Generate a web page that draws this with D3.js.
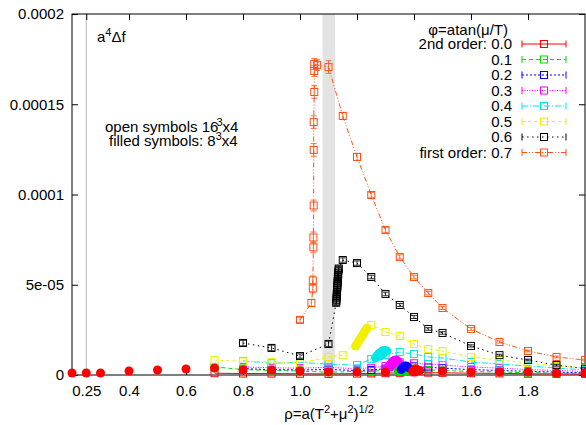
<!DOCTYPE html>
<html>
<head>
<meta charset="utf-8">
<script src="https://cdn.jsdelivr.net/npm/d3@7"></script>
<style>
  body { margin: 0; background: #fff; }
  svg { display: block; font-family: "Liberation Sans", Arial, sans-serif; }
</style>
</head>
<body>
<svg width="586" height="425"></svg>
<script>
// Data
// ---------------------------
var phiLabels = ['2nd order: 0.0', '0.1', '0.2', '0.3', '0.4', '0.5', '0.6', 'first order: 0.7'];
var phiColors = ['#ff0000', '#00dd00', '#0000ff', '#ff00ff', '#00e5e5', '#f0f000', '#000000', '#ff5014'];
var phiDash = ['none', '4,3', '2,2', '1,1.5', '6,2,1,2', '3,3', '1.5,3.5', '5,2,1,2,1,2'];

var xTicks = [0.25, 0.4, 0.6, 0.8, 1.0, 1.2, 1.4, 1.6, 1.8];
var yTicks = [0, 5e-5, 1e-4, 1.5e-4, 2e-4];
var yTickLabels = ['0', '5e-05', '0.0001', '0.00015', '0.0002'];

// open symbols, 16^3x4
var rhoGrid = [0.7, 0.8, 0.9, 1.0, 1.1, 1.2, 1.25, 1.3, 1.35, 1.4, 1.45, 1.5, 1.6, 1.7, 1.8, 1.9, 2.0];
var open00 = [1.0e-6, 0.8e-6, 0.8e-6, 0.7e-6, 0.6e-6, 0.8e-6, 0.9e-6, 1.0e-6, 1.2e-6, 1.5e-6, 1.3e-6, 1.2e-6, 1.0e-6, 0.9e-6, 0.7e-6, 0.6e-6, 0.5e-6];
var open01 = [4.5e-6, 3.0e-6, 2.5e-6, 2.2e-6, 1.5e-6, 2.0e-6, 2.2e-6, 2.5e-6, 3.0e-6, 3.2e-6, 2.8e-6, 2.5e-6, 2.0e-6, 1.6e-6, 1.3e-6, 1.0e-6, 0.8e-6];
var open02 = [null, 3.5e-6, 3.0e-6, 2.8e-6, 3.0e-6, 2.5e-6, 2.8e-6, 3.5e-6, 4.5e-6, 4.8e-6, 4.2e-6, 3.8e-6, 3.0e-6, 2.5e-6, 2.0e-6, 1.6e-6, 1.2e-6];
var open03 = [null, 4.5e-6, 4.0e-6, 3.8e-6, 4.2e-6, 3.5e-6, 4.0e-6, 5.0e-6, 7.0e-6, 6.5e-6, 6.0e-6, 5.5e-6, 4.5e-6, 3.8e-6, 3.0e-6, 2.5e-6, 2.0e-6];
var open04 = [null, 7.8e-6, 6.5e-6, 7.0e-6, 6.0e-6, 5.5e-6, 8.9e-6, 1.1e-5, 1.27e-5, 1.16e-5, 1.0e-5, 9.4e-6, 7.2e-6, 6.1e-6, 5.0e-6, 3.9e-6, 2.8e-6];

var rho05 = [0.7, 0.8, 0.9, 1.0, 1.1, 1.15, 1.25, 1.3, 1.35, 1.4, 1.45, 1.5, 1.6, 1.7, 1.8, 1.9, 2.0];
var open05 = [8.3e-6, 7.5e-6, 7.2e-6, 6.5e-6, 1.0e-5, 1.1e-5, 2.77e-5, 2.38e-5, 2.16e-5, 1.72e-5, 1.44e-5, 1.33e-5, 1.0e-5, 8.3e-6, 6.6e-6, 5.0e-6, 3.9e-6];

var rho06 = [0.8, 0.9, 1.0, 1.1, 1.127, 1.128, 1.128, 1.129, 1.129, 1.13, 1.13, 1.131, 1.131, 1.132, 1.132, 1.133, 1.133, 1.134, 1.134, 1.135, 1.136, 1.15, 1.2, 1.25, 1.3, 1.35, 1.4, 1.45, 1.5, 1.6, 1.7, 1.8, 1.9, 2.0];
var open06 = [1.77e-5, 1.5e-5, 1.05e-5, 1.72e-5, 4.0e-5, 4.12e-5, 4.24e-5, 4.36e-5, 4.48e-5, 4.6e-5, 4.72e-5, 4.84e-5, 4.96e-5, 5.08e-5, 5.2e-5, 5.32e-5, 5.44e-5, 5.56e-5, 5.68e-5, 5.8e-5, 5.9e-5, 6.37e-5, 6.2e-5, 5.43e-5, 4.49e-5, 3.88e-5, 3.21e-5, 2.55e-5, 2.33e-5, 1.61e-5, 1.1e-5, 8.3e-6, 5.5e-6, 3.5e-6];
var err06 = [1.5e-6, 1.5e-6, 1.2e-6, 1.5e-6, 1.5e-6, 1.5e-6, 1.5e-6, 1.5e-6, 1.5e-6, 1.5e-6, 1.5e-6, 1.5e-6, 1.5e-6, 1.5e-6, 1.5e-6, 1.5e-6, 1.5e-6, 1.5e-6, 1.5e-6, 1.5e-6, 1.5e-6, 1.2e-6, 1.2e-6, 1.0e-6, 1.0e-6, 0.8e-6, 0.8e-6, 0.7e-6, 0.7e-6, 0.6e-6, 0.5e-6, 0.5e-6, 0.5e-6, 0.5e-6];

var rho07 = [1.0, 1.04, 1.045, 1.045, 1.047, 1.047, 1.048, 1.048, 1.048, 1.05, 1.05, 1.05, 1.06, 1.1, 1.15, 1.2, 1.25, 1.3, 1.35, 1.4, 1.45, 1.5, 1.6, 1.7, 1.8, 1.9, 2.0];
var open07 = [3.05e-5, 3.99e-5, 4.8e-5, 5.24e-5, 7.07e-5, 7.62e-5, 9.39e-5, 1.247e-4, 1.401e-4, 1.568e-4, 1.684e-4, 1.723e-4, 1.717e-4, 1.706e-4, 1.435e-4, 1.208e-4, 9.97e-5, 8.03e-5, 6.54e-5, 5.43e-5, 4.54e-5, 3.71e-5, 2.55e-5, 1.83e-5, 1.33e-5, 1.0e-5, 8.3e-6];
var err07 = [1.5e-6, 2e-6, 2.5e-6, 2.5e-6, 3e-6, 3e-6, 3e-6, 3.5e-6, 3.5e-6, 3.5e-6, 3e-6, 3e-6, 3e-6, 3.5e-6, 2e-6, 2e-6, 1.5e-6, 1.5e-6, 1.2e-6, 1e-6, 1e-6, 0.8e-6, 0.8e-6, 0.6e-6, 0.5e-6, 0.5e-6, 0.5e-6];

// filled symbols, 8^3x4
var rhoFilled00 = [0.2, 0.25, 0.3, 0.4, 0.5, 0.6, 0.7, 0.8, 0.9, 1.0, 1.1, 1.2, 1.3, 1.4, 1.5, 1.6, 1.7, 1.8, 1.9, 2.0];
var filled00 = [1.1e-6, 1.1e-6, 1.1e-6, 2.2e-6, 2.8e-6, 3.3e-6, 3.9e-6, 2.8e-6, 2.8e-6, 2.2e-6, 1.7e-6, 1.7e-6, 1.7e-6, 1.7e-6, 2.2e-6, 1.7e-6, 1.7e-6, 1.7e-6, 1.1e-6, 1.1e-6];
var blob00 = [[1.395, 2e-6], [1.4, 3e-6], [1.405, 3.5e-6], [1.41, 3e-6], [1.42, 2.5e-6]];
var blob01 = [[1.345, 2e-6], [1.35, 3e-6], [1.36, 2.5e-6], [1.37, 2e-6], [1.38, 2.5e-6], [1.39, 2e-6]];
var blob02 = [[1.355, 3e-6], [1.36, 4e-6], [1.365, 4.8e-6], [1.37, 5e-6], [1.375, 4.8e-6], [1.38, 4.2e-6]];
var blob03 = [[1.305, 3.5e-6], [1.31, 4.5e-6], [1.315, 5.5e-6], [1.32, 6.5e-6], [1.325, 7.5e-6], [1.33, 8e-6], [1.335, 8.3e-6], [1.34, 8e-6], [1.345, 7.2e-6], [1.35, 6e-6], [1.32, 4.5e-6], [1.335, 5.5e-6]];
var blob04 = [[1.265, 9.5e-6], [1.27, 1.05e-5], [1.275, 1.15e-5], [1.28, 1.22e-5], [1.285, 1.28e-5], [1.29, 1.33e-5], [1.295, 1.36e-5], [1.3, 1.36e-5], [1.305, 1.32e-5], [1.28, 1.05e-5], [1.29, 1.15e-5]];
var blob05 = [[1.195, 1.6e-5], [1.2, 1.72e-5], [1.205, 1.85e-5], [1.21, 1.98e-5], [1.215, 2.1e-5], [1.22, 2.22e-5], [1.225, 2.35e-5], [1.23, 2.48e-5], [1.235, 2.6e-5]];

var band = [1.079, 1.123];
var greyLine = 0.25;

// Scales
// ------
var svg = d3.select('svg');
var plotL = 72, plotR = 585, plotT = 14, plotB = 375;
var x = d3.scaleLinear().domain([0.2, 2.0]).range([plotL, plotR]);
var y = d3.scaleLinear().domain([0, 2e-4]).range([plotB, plotT]);

svg.append('rect')
   .attr('x', x(band[0])).attr('y', plotT)
   .attr('width', x(band[1]) - x(band[0])).attr('height', plotB - plotT)
   .style('fill', '#e3e3e3');
svg.append('line')
   .attr('x1', x(greyLine)).attr('x2', x(greyLine))
   .attr('y1', plotT).attr('y2', plotB)
   .style('stroke', '#bbbbbb');

// Axes
// ----
var fmtX = function (d) { return d === 0.25 ? '0.25' : d3.format('.1f')(d); };
svg.append('g').attr('transform', 'translate(0,' + plotB + ')')
   .call(d3.axisBottom(x).tickValues(xTicks).tickSize(-6).tickPadding(10).tickFormat(fmtX));
svg.append('g').attr('transform', 'translate(0,' + plotT + ')')
   .call(d3.axisTop(x).tickValues(xTicks).tickSize(-6).tickFormat(''));
svg.append('g').attr('transform', 'translate(' + plotL + ',0)')
   .call(d3.axisLeft(y).tickValues(yTicks).tickSize(-6).tickPadding(8)
     .tickFormat(function (d, i) { return yTickLabels[i]; }));
svg.append('g').attr('transform', 'translate(' + plotR + ',0)')
   .call(d3.axisRight(y).tickValues(yTicks).tickSize(-6).tickFormat(''));
svg.selectAll('.domain').remove();
svg.selectAll('.tick text').style('font-size', '15px').style('font-family', '"Liberation Sans", Arial, sans-serif').attr('fill', '#000');
svg.selectAll('.tick line').style('stroke', '#000');
svg.append('rect')
   .attr('x', plotL).attr('y', plotT).attr('width', plotR - plotL).attr('height', plotB - plotT)
   .style('fill', 'none').style('stroke', '#000');

// Series
// ------
function zip(xs, ys, es) {
  return xs.map(function (v, i) { return {x: v, y: ys[i], e: es ? es[i] : 0}; })
           .filter(function (d) { return d.y !== null; });
}
var openSeries = [
  zip(rhoGrid, open00), zip(rhoGrid, open01), zip(rhoGrid, open02), zip(rhoGrid, open03),
  zip(rhoGrid, open04), zip(rho05, open05), zip(rho06, open06, err06), zip(rho07, open07, err07)
];
var line = d3.line().x(function (d) { return x(d.x); }).y(function (d) { return y(d.y); });

openSeries.forEach(function (pts, k) {
  var g = svg.append('g');
  g.append('path').attr('d', line(pts))
   .style('fill', 'none').style('stroke', phiColors[k])
   .style('stroke-dasharray', phiDash[k]);
  pts.filter(function (d) { return d.e > 0; }).forEach(function (d) {
    var cx = x(d.x), y0 = y(d.y - d.e), y1 = y(d.y + d.e);
    g.append('path')
     .attr('d', 'M' + cx + ',' + y0 + 'V' + y1 + 'M' + (cx - 3) + ',' + y0 + 'h6M' + (cx - 3) + ',' + y1 + 'h6')
     .style('fill', 'none').style('stroke', phiColors[k]).style('stroke-width', 0.8);
  });
  g.selectAll('rect').data(pts).enter().append('rect')
   .attr('x', function (d) { return x(d.x) - 3.5; })
   .attr('y', function (d) { return y(d.y) - 3.5; })
   .attr('width', 7).attr('height', 7)
   .style('fill', 'none').style('stroke', phiColors[k]);
});

var blobs = [blob05, blob04, blob03, blob01, blob02, blob00];
var blobColor = [phiColors[5], phiColors[4], phiColors[3], phiColors[1], phiColors[2], phiColors[0]];
blobs.forEach(function (pts, k) {
  svg.append('g').selectAll('circle').data(pts).enter().append('circle')
     .attr('cx', function (d) { return x(d[0]); })
     .attr('cy', function (d) { return y(d[1]); })
     .attr('r', 4.5)
     .style('fill', blobColor[k]);
});
svg.append('g').selectAll('circle').data(zip(rhoFilled00, filled00)).enter().append('circle')
   .attr('cx', function (d) { return x(d.x); })
   .attr('cy', function (d) { return y(d.y); })
   .attr('r', 4.5)
   .style('fill', phiColors[0]);

// Legend
// ------
var legend = svg.append('g').style('font-size', '15px');
legend.append('text').attr('x', 508).attr('y', 35).attr('text-anchor', 'end').text('φ=atan(μ/T)');
phiLabels.forEach(function (label, k) {
  var cy = 44 + k * 15.5;
  legend.append('text').attr('x', 512).attr('y', cy + 5).attr('text-anchor', 'end').text(label);
  legend.append('path').attr('d', 'M522,' + cy + 'H566')
        .style('stroke', phiColors[k]).style('stroke-dasharray', phiDash[k]);
  legend.append('path').attr('d', 'M522,' + (cy - 3.5) + 'v7M566,' + (cy - 3.5) + 'v7')
        .style('stroke', phiColors[k]);
  legend.append('rect').attr('x', 540.5).attr('y', cy - 3.5).attr('width', 7).attr('height', 7)
        .style('fill', 'none').style('stroke', phiColors[k]);
});

// Annotations
// -----------
var note = svg.append('g').style('font-size', '15px');
var t1 = note.append('text').attr('x', 97).attr('y', 42);
t1.append('tspan').text('a');
t1.append('tspan').attr('dy', -6).style('font-size', '11px').text('4');
t1.append('tspan').attr('dy', 6).text('Δf');

var t2 = note.append('text').attr('x', 105).attr('y', 132);
t2.append('tspan').text('open symbols 16');
t2.append('tspan').attr('dx', -2).attr('dy', -6).style('font-size', '11px').text('3');
t2.append('tspan').attr('dy', 6).text('x4');

var t3 = note.append('text').attr('x', 109).attr('y', 146);
t3.append('tspan').text('filled symbols: 8');
t3.append('tspan').attr('dy', -6).style('font-size', '11px').text('3');
t3.append('tspan').attr('dy', 6).text('x4');

var t4 = note.append('text').attr('x', 329).attr('y', 419).attr('text-anchor', 'middle');
t4.append('tspan').text('ρ=a(T');
t4.append('tspan').attr('dy', -6).style('font-size', '11px').text('2');
t4.append('tspan').attr('dy', 6).text('+μ');
t4.append('tspan').attr('dy', -6).style('font-size', '11px').text('2');
t4.append('tspan').attr('dy', 6).text(')');
t4.append('tspan').attr('dy', -6).style('font-size', '11px').text('1/2');
</script>
</body>
</html>
